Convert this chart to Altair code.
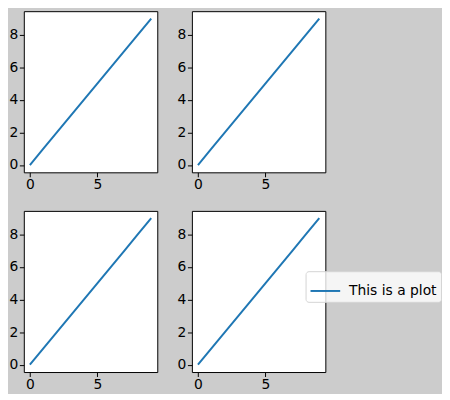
import altair as alt
import pandas as pd

xs = [0, 1, 2, 3, 4, 5, 6, 7, 8, 9]
ys = [0, 1, 2, 3, 4, 5, 6, 7, 8, 9]
series = ["This is a plot"] * 10
x_ticks = [0, 5]
y_ticks = [0, 2, 4, 6, 8]

df = pd.DataFrame({"x": xs, "y": ys, "label": series})


def panel():
    return alt.Chart(df).mark_line(strokeWidth=2).encode(
        x=alt.X("x:Q", scale=alt.Scale(domain=[-0.45, 9.45], nice=False, zero=False),
                axis=alt.Axis(values=x_ticks, title=None, labelPadding=1)),
        y=alt.Y("y:Q", scale=alt.Scale(domain=[-0.45, 9.45], nice=False, zero=False),
                axis=alt.Axis(values=y_ticks, title=None, labelPadding=1.6)),
        color=alt.Color("label:N", scale=alt.Scale(range=["#1f77b4"]),
                        legend=alt.Legend(title=None, orient="none", legendX=285, legendY=263)),
    ).properties(width=135, height=163)


chart = alt.concat(
    panel(), panel(), panel(), panel(),
    columns=2,
    spacing=alt.RowColnumber(row=39, column=35),
    bounds="flush",
).properties(
    background="#cccccc",
    padding={"left": 0, "top": 0, "right": 0, "bottom": 0},
).configure_view(
    stroke="black", strokeWidth=1, fill="white"
).configure_axis(
    domain=False, grid=False, tickColor="black", tickSize=4.5, tickWidth=1,
    labelFont="DejaVu Sans", labelFontSize=14, labelColor="black",
).configure_legend(
    fillColor="rgba(255,255,255,0.8)", strokeColor="#d4d4d4", cornerRadius=3,
    padding=4, symbolType="stroke", symbolSize=900, symbolStrokeWidth=2,
    labelFont="DejaVu Sans", labelFontSize=14, labelColor="black", labelOffset=8,
)

chart.save("out.html", embed_options={"renderer": "svg", "actions": False})
